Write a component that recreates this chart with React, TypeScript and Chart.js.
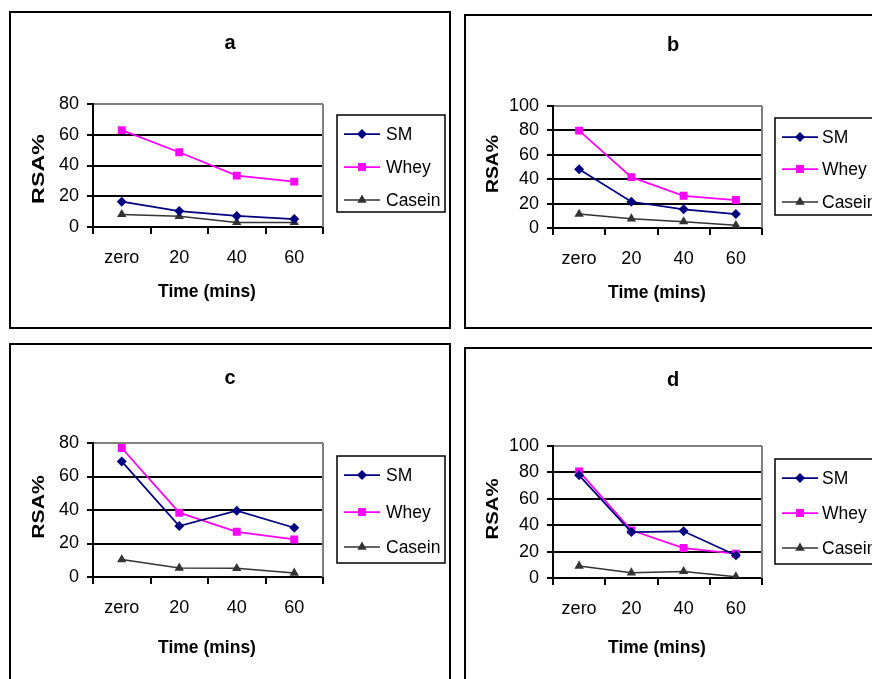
import React, { useEffect, useRef } from 'react';
import { Chart, registerables } from 'chart.js';

Chart.register(...registerables);

// ---------- data ----------
const categories = ['zero', '20', '40', '60'];
const seriesNames = ['SM', 'Whey', 'Casein'];
const panelTitles = ['a', 'b', 'c', 'd'];
const xAxisTitle = 'Time (mins)';
const yAxisTitle = 'RSA%';

const smA = [16.5, 10.4, 7.2, 5.2];
const wheyA = [63, 48.6, 33.4, 29.5];
const caseinA = [8.2, 7, 3, 3];

const smB = [48.2, 21.5, 15.3, 11.4];
const wheyB = [79.8, 41.7, 26.4, 22.9];
const caseinB = [11.4, 7.6, 5.2, 2.2];

const smC = [69, 30.4, 39.6, 29.4];
const wheyC = [77, 38.4, 27, 22.4];
const caseinC = [10.4, 5.4, 5.2, 2.4];

const smD = [77.8, 34.8, 35.4, 17.2];
const wheyD = [80.8, 36.1, 22.7, 18.4];
const caseinD = [9.1, 4, 5, 1];

const yMaxes = [80, 100, 80, 100];
const yStep = 20;

const seriesColors = ['#000080', '#FF00FF', '#333333'];
const seriesPointStyles = ['rectRot', 'rect', 'triangle'];
const seriesPointRadius = [5, 5.6, 5.4];
const seriesLineWidths = [1.75, 1.75, 1.5];

// ---------- layout ----------
type PanelLayout = {
  pageX: number; pageY: number; w: number; h: number;
  frame: number[];
  plotL: number; plotR: number; plotT: number; plotB: number;
  titleX: number; titleY: number;
  xTitleX: number; xTitleY: number;
  yTitleX: number; yTitleY: number; yTitleStretch: number;
  legBox: number[]; legLineX0: number; legLineX1: number; legTextX: number; legRows: number[];
};

const layouts: PanelLayout[] = [
  {
    pageX: 0, pageY: 0, w: 460, h: 335,
    frame: [10, 12, 450, 328],
    plotL: 93, plotR: 323, plotT: 104, plotB: 227,
    titleX: 230, titleY: 43,
    xTitleX: 207, xTitleY: 292,
    yTitleX: 39, yTitleY: 169, yTitleStretch: 1.37,
    legBox: [337, 115, 445, 212], legLineX0: 344, legLineX1: 380, legTextX: 386, legRows: [134, 167, 200],
  },
  {
    pageX: 460, pageY: 0, w: 412, h: 335,
    frame: [5, 15, 440, 328],
    plotL: 93, plotR: 302, plotT: 106, plotB: 228,
    titleX: 213, titleY: 45,
    xTitleX: 197, xTitleY: 293,
    yTitleX: 33, yTitleY: 164, yTitleStretch: 1.14,
    legBox: [315, 118, 440, 215], legLineX0: 322, legLineX1: 358, legTextX: 362, legRows: [137, 169, 202],
  },
  {
    pageX: 0, pageY: 335, w: 460, h: 344,
    frame: [10, 9, 450, 370],
    plotL: 93, plotR: 323, plotT: 108, plotB: 242,
    titleX: 230, titleY: 43,
    xTitleX: 207, xTitleY: 313,
    yTitleX: 39, yTitleY: 172, yTitleStretch: 1.24,
    legBox: [337, 121, 445, 228], legLineX0: 344, legLineX1: 380, legTextX: 386, legRows: [140, 177, 212],
  },
  {
    pageX: 460, pageY: 335, w: 412, h: 344,
    frame: [5, 13, 440, 370],
    plotL: 93, plotR: 302, plotT: 111, plotB: 243,
    titleX: 213, titleY: 45,
    xTitleX: 197, xTitleY: 313,
    yTitleX: 33, yTitleY: 174, yTitleStretch: 1.2,
    legBox: [315, 124, 440, 229], legLineX0: 322, legLineX1: 358, legTextX: 362, legRows: [143, 178, 213],
  },
];

const FONT = "'Liberation Sans', Arial, sans-serif";
Chart.defaults.font.family = FONT;

function drawMarker(ctx: CanvasRenderingContext2D, style: string, x: number, y: number, r: number, color: string) {
  ctx.save();
  ctx.fillStyle = color;
  ctx.beginPath();
  if (style === 'rectRot') {
    ctx.moveTo(x, y - r); ctx.lineTo(x + r, y); ctx.lineTo(x, y + r); ctx.lineTo(x - r, y);
  } else if (style === 'rect') {
    const s = r * Math.SQRT1_2;
    ctx.rect(x - s, y - s, 2 * s, 2 * s);
  } else {
    for (let i = 0; i < 3; i++) {
      const a = (i * 2 * Math.PI) / 3;
      const px = x + Math.sin(a) * r;
      const py = y - Math.cos(a) * r;
      if (i === 0) ctx.moveTo(px, py); else ctx.lineTo(px, py);
    }
  }
  ctx.closePath();
  ctx.fill();
  ctx.restore();
}

function makePlugin(L: PanelLayout, title: string) {
  return {
    id: 'panelDeco',
    beforeDraw(chart: any) {
      const ctx = chart.ctx as CanvasRenderingContext2D;
      ctx.save();
      ctx.fillStyle = '#fff';
      ctx.fillRect(0, 0, chart.width, chart.height);
      ctx.strokeStyle = '#000';
      ctx.lineWidth = 2;
      const [x0, y0, x1, y1] = L.frame;
      ctx.strokeRect(x0, y0, x1 - x0, y1 - y0);
      ctx.restore();
    },
    beforeDatasetsDraw(chart: any) {
      const ctx = chart.ctx as CanvasRenderingContext2D;
      const a = chart.chartArea;
      ctx.save();
      ctx.strokeStyle = '#808080';
      ctx.lineWidth = 2;
      ctx.beginPath();
      ctx.moveTo(a.right, a.top);
      ctx.lineTo(a.right, a.bottom);
      ctx.stroke();
      ctx.restore();
    },
    afterDraw(chart: any) {
      const ctx = chart.ctx as CanvasRenderingContext2D;
      ctx.save();
      ctx.fillStyle = '#000';
      ctx.textAlign = 'center';
      ctx.textBaseline = 'middle';
      ctx.font = `bold 20px ${FONT}`;
      ctx.fillText(title, L.titleX, L.titleY);
      ctx.font = `bold 17.5px ${FONT}`;
      ctx.fillText(xAxisTitle, L.xTitleX, L.xTitleY);
      ctx.save();
      ctx.translate(L.yTitleX, L.yTitleY);
      ctx.rotate(-Math.PI / 2);
      ctx.scale(L.yTitleStretch, 1);
      ctx.font = `bold 17px ${FONT}`;
      ctx.fillText(yAxisTitle, 0, 0);
      ctx.restore();

      // legend
      const [bx0, by0, bx1, by1] = L.legBox;
      ctx.fillStyle = '#fff';
      ctx.fillRect(bx0, by0, bx1 - bx0, by1 - by0);
      ctx.strokeStyle = '#000';
      ctx.lineWidth = 1.5;
      ctx.strokeRect(bx0, by0, bx1 - bx0, by1 - by0);
      ctx.font = `17.5px ${FONT}`;
      ctx.textAlign = 'left';
      chart.data.datasets.forEach((ds: any, i: number) => {
        const y = L.legRows[i];
        ctx.strokeStyle = ds.borderColor;
        ctx.lineWidth = ds.borderWidth;
        ctx.beginPath();
        ctx.moveTo(L.legLineX0, y);
        ctx.lineTo(L.legLineX1, y);
        ctx.stroke();
        drawMarker(ctx, ds.pointStyle, (L.legLineX0 + L.legLineX1) / 2, y, ds.pointRadius, ds.pointBackgroundColor);
        ctx.fillStyle = '#000';
        ctx.fillText(ds.label, L.legTextX, y + 1);
      });
      ctx.restore();
    },
  };
}

function Panel({ idx, series }: { idx: number; series: number[][] }) {
  const ref = useRef<HTMLCanvasElement>(null);
  const L = layouts[idx];
  useEffect(() => {
    if (!ref.current) return;
    const yMax = yMaxes[idx];
    const xAxisHeight = 45;
    const chart = new Chart(ref.current, {
      type: 'line',
      data: {
        labels: categories,
        datasets: series.map((vals, i) => ({
          label: seriesNames[i],
          data: vals,
          borderColor: seriesColors[i],
          backgroundColor: seriesColors[i],
          pointBackgroundColor: seriesColors[i],
          pointBorderColor: seriesColors[i],
          pointBorderWidth: 0,
          pointStyle: seriesPointStyles[i] as any,
          pointRadius: seriesPointRadius[i],
          borderWidth: seriesLineWidths[i],
          tension: 0,
          fill: false,
        })),
      },
      options: {
        responsive: false,
        animation: false,
        devicePixelRatio: 1,
        layout: {
          padding: {
            left: 0,
            top: L.plotT,
            right: L.w - L.plotR,
            bottom: L.h - L.plotB - xAxisHeight,
          },
        },
        plugins: {
          legend: { display: false },
          title: { display: false },
          tooltip: { enabled: false },
        },
        scales: {
          x: {
            type: 'category',
            offset: true,
            afterFit: (s: any) => { s.height = xAxisHeight; },
            grid: {
              offset: true,
              drawOnChartArea: false,
              drawTicks: true,
              tickLength: 7,
              color: '#000',
              lineWidth: 2,
            },
            border: { display: true, color: '#000', width: 2 },
            ticks: { color: '#000', font: { size: 18 }, padding: 13, maxRotation: 0, autoSkip: false },
          },
          y: {
            min: 0,
            max: yMax,
            afterFit: (s: any) => { s.width = L.plotL; },
            ticks: { stepSize: yStep, color: '#000', font: { size: 18 }, padding: 8, autoSkip: false },
            grid: {
              color: (c: any) => (c.tick && c.tick.value === yMax ? '#808080' : '#000'),
              tickColor: '#000',
              lineWidth: 2,
              tickLength: 6,
            },
            border: { display: true, color: '#000', width: 2 },
          },
        },
      },
      plugins: [makePlugin(L, panelTitles[idx])],
    });
    return () => chart.destroy();
  }, []);
  return (
    <canvas
      ref={ref}
      width={L.w}
      height={L.h}
      style={{ position: 'absolute', left: L.pageX, top: L.pageY, width: L.w, height: L.h }}
    />
  );
}

export default function App() {
  return (
    <div style={{ position: 'fixed', left: 0, top: 0, width: 872, height: 679, background: '#fff', overflow: 'hidden' }}>
      <Panel idx={0} series={[smA, wheyA, caseinA]} />
      <Panel idx={1} series={[smB, wheyB, caseinB]} />
      <Panel idx={2} series={[smC, wheyC, caseinC]} />
      <Panel idx={3} series={[smD, wheyD, caseinD]} />
    </div>
  );
}
